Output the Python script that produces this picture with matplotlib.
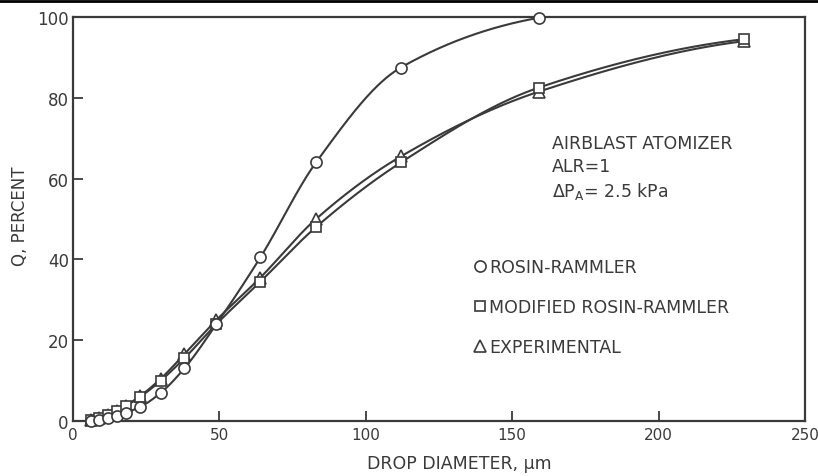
import numpy as np
import matplotlib
matplotlib.use("Agg")
import matplotlib.pyplot as plt
from matplotlib.lines import Line2D

# ---- data ----
diam = [6, 9, 12, 15, 18, 23, 30, 38, 49, 64, 83, 112, 159, 229]
rosin_rammler = [0.1, 0.3, 0.7, 1.2, 2.0, 3.5, 7.0, 13.0, 24.0, 40.5, 64.0, 87.5, 99.8]
modified_rr = [0.3, 0.8, 1.5, 2.5, 3.7, 6.0, 10.0, 15.5, 24.0, 34.5, 48.0, 64.0, 82.5, 94.5]
experimental = [0.3, 0.8, 1.5, 2.5, 3.8, 6.2, 10.5, 16.5, 25.0, 35.5, 50.0, 65.5, 81.5, 94.0]
xticks = [0, 50, 100, 150, 200, 250]
yticks = [0, 20, 40, 60, 80, 100]

INK = "#3a3a3a"


def smooth(x, y, n=400):
    """Monotone cubic (PCHIP) curve through the data points, for drawing only."""
    x = np.asarray(x, float)
    y = np.asarray(y, float)
    h = np.diff(x)
    d = np.diff(y) / h
    m = np.zeros_like(y)
    for k in range(1, len(x) - 1):
        if d[k - 1] * d[k] > 0:
            w1 = 2 * h[k] + h[k - 1]
            w2 = h[k] + 2 * h[k - 1]
            m[k] = (w1 + w2) / (w1 / d[k - 1] + w2 / d[k])
    m[0] = d[0]
    m[-1] = d[-1] * 0.5
    xs = np.linspace(x[0], x[-1], n)
    idx = np.clip(np.searchsorted(x, xs) - 1, 0, len(x) - 2)
    t = (xs - x[idx]) / h[idx]
    h00 = 2 * t**3 - 3 * t**2 + 1
    h10 = t**3 - 2 * t**2 + t
    h01 = -2 * t**3 + 3 * t**2
    h11 = t**3 - t**2
    ys = h00 * y[idx] + h10 * h[idx] * m[idx] + h01 * y[idx + 1] + h11 * h[idx] * m[idx + 1]
    return xs, ys


plt.rcParams['font.family'] = ['DejaVu Sans']
fig = plt.figure(figsize=(8.18, 4.77), dpi=100)
ax = fig.add_axes([73 / 818, 1 - 422 / 477, (805 - 73) / 818, (422 - 18) / 477])

lw = 1.5
ms = 8
for xs_, ys_ in [(diam[:len(rosin_rammler)], rosin_rammler), (diam, modified_rr), (diam, experimental)]:
    sx, sy = smooth(xs_, ys_)
    ax.plot(sx, sy, color=INK, lw=lw, zorder=2, clip_on=False)

ax.plot(diam, experimental, linestyle="none", marker="^", ms=ms, mfc="white",
        mec=INK, mew=1.2, zorder=3, clip_on=False)
ax.plot(diam, modified_rr, linestyle="none", marker="s", ms=ms - 1, mfc="white",
        mec=INK, mew=1.2, zorder=4, clip_on=False)
ax.plot(diam[:len(rosin_rammler)], rosin_rammler, linestyle="none", marker="o", ms=ms,
        mfc="white", mec=INK, mew=1.2, zorder=5, clip_on=False)

ax.set_xlim(0, 250)
ax.set_ylim(0, 100)
ax.set_xticks(xticks)
ax.set_yticks(yticks)
ax.tick_params(direction="in", length=7, width=1.3, colors=INK, labelcolor=INK)
ax.tick_params(axis="x", labelsize=11, pad=4)
ax.tick_params(axis="y", labelsize=12, pad=3)
for s in ax.spines.values():
    s.set_color(INK)
    s.set_linewidth(1.6)

ax.set_xlabel("DROP DIAMETER, μm", color=INK, fontsize=12.5)
ax.set_ylabel("Q, PERCENT", color=INK, fontsize=12)
ax.xaxis.set_label_coords((459 - 73) / 732, -(464 - 422) / 404)
ax.yaxis.set_label_coords((20 - 73) / 732, (422 - 216) / 404)
ax.xaxis.label.set_va("center")
ax.yaxis.label.set_va("center")

# annotations
tsize = 12.5
ax.text(0.654, 0.687, "AIRBLAST ATOMIZER", transform=ax.transAxes, fontsize=tsize,
        color=INK, va="center", ha="left")
ax.text(0.654, 0.630, "ALR=1", transform=ax.transAxes, fontsize=tsize,
        color=INK, va="center", ha="left")
ax.text(0.654, 0.571, r"$\Delta$P$_\mathregular{A}$= 2.5 kPa", transform=ax.transAxes,
        fontsize=tsize, color=INK, va="center", ha="left")

handles = [
    Line2D([], [], linestyle="none", marker="o", ms=8, mfc="white", mec=INK, mew=1.2),
    Line2D([], [], linestyle="none", marker="s", ms=7, mfc="white", mec=INK, mew=1.2),
    Line2D([], [], linestyle="none", marker="^", ms=8, mfc="white", mec=INK, mew=1.2),
]
labels = ["ROSIN-RAMMLER", "MODIFIED ROSIN-RAMMLER", "EXPERIMENTAL"]
leg = ax.legend(handles, labels, loc="upper left", bbox_to_anchor=(0.54, 0.42),
                frameon=False, handlelength=0.6, handletextpad=0.2,
                labelspacing=1.25, fontsize=tsize, borderaxespad=0)
for t in leg.get_texts():
    t.set_color(INK)

# top edge rule of the scanned page
fig.add_artist(Line2D([0, 1], [0.996, 0.996], color="black", lw=2, transform=fig.transFigure))

fig.savefig("out.png", dpi=100)
